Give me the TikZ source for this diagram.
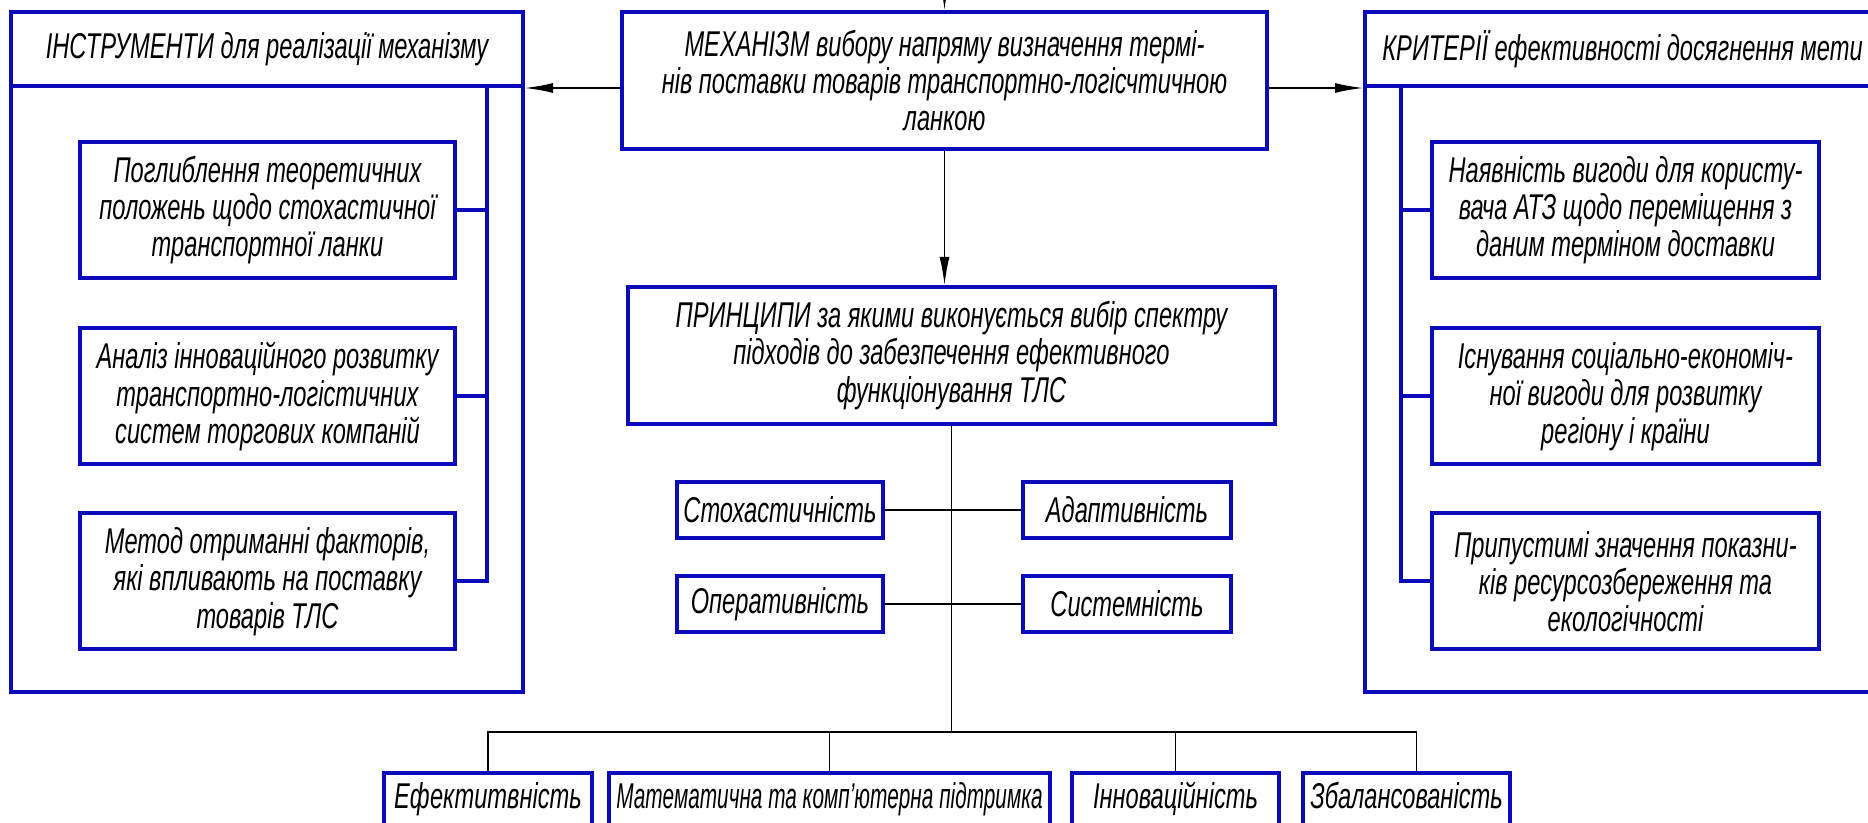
\documentclass[tikz,border=0pt]{standalone}
\usepackage{fontspec}
\setmainfont{Liberation Sans}[FakeStretch=0.66]
\newfontfamily\narrowfont{Liberation Sans}[FakeStretch=0.58]
\usetikzlibrary{positioning, arrows.meta}
\definecolor{mBlue}{HTML}{0A0AB8}

\begin{document}
\begin{tikzpicture}[
  x=0.1mm, y=-0.1mm,
  every node/.style={font=\fontsize{10.2}{10.6}\selectfont\itshape},
  box/.style={draw=mBlue, line width=0.4mm, fill=white, align=center, inner sep=0pt},
  frame/.style={draw=mBlue, line width=0.4mm, inner sep=0pt},
  lowbox/.style={box, anchor=north, inner ysep=1.2mm, text height=2.4mm, text depth=4mm},
  bus/.style={mBlue, line width=0.4mm},
  link/.style={black, line width=0.15mm},
  arr/.style={black, line width=0.15mm, -{Latex[length=2.8mm, width=1mm]}},
]
  \useasboundingbox (0,0) rectangle (1868,823);
  \fill[white] (0,0) rectangle (1868,823);
  \clip (0,0) rectangle (1868,823);

  % Mechanism and principles
  \node[box, minimum width=64.5mm, minimum height=13.7mm] (mech) at (944.5,80.5) {
    МЕХАНІЗМ вибору напряму визначення термі-\\
    нів поставки товарів транспортно-логісчтичною\\
    ланкою};
  \node[box, minimum width=64.7mm, minimum height=13.7mm] (princ) at (951.5,355.5) {
    ПРИНЦИПИ за якими виконується вибір спектру\\
    підходів до забезпечення ефективного\\
    функціонування ТЛС};
  \coordinate (mechin) at (944.5,-20);

  % Instruments frame
  \node[frame, minimum width=51.2mm, minimum height=68mm] (instr) at (267,352) {};
  \node[box, minimum width=51.2mm, minimum height=7.4mm] (instrhead) at (267,49) {
    ІНСТРУМЕНТИ для реалізації механізму};
  \node[box, minimum width=37.5mm, minimum height=13.6mm] (t1) at (267.5,210) {
    Поглиблення теоретичних\\
    положень щодо стохастичної\\
    транспортної ланки};
  \node[box, minimum width=37.5mm, minimum height=13.6mm] (t2) at (267.5,396.5) {
    Аналіз інноваційного розвитку\\
    транспортно-логістичних\\
    систем торгових компаній};
  \node[box, minimum width=37.5mm, minimum height=13.6mm] (t3) at (267.5,581.5) {
    Метод отриманні факторів,\\
    які впливають на поставку\\
    товарів ТЛС};
  \coordinate (lbus) at (487,86);

  % Criteria frame
  \node[frame, minimum width=51.5mm, minimum height=68mm] (crit) at (1622.5,352) {};
  \node[box, minimum width=51.5mm, minimum height=7.4mm] (crithead) at (1622.5,49) {
    КРИТЕРІЇ ефективності досягнення мети};
  \node[box, minimum width=38.7mm, minimum height=13.6mm] (k1) at (1625.5,210) {
    Наявність вигоди для користу-\\
    вача АТЗ щодо переміщення з\\
    даним терміном доставки};
  \node[box, minimum width=38.7mm, minimum height=13.6mm] (k2) at (1625.5,396.5) {
    Існування соціально-економіч-\\
    ної вигоди для розвитку\\
    регіону і країни};
  \node[box, minimum width=38.7mm, minimum height=13.6mm] (k3) at (1625.5,581.5) {
    Припустимі значення показни-\\
    ків ресурсозбереження та\\
    екологічності};
  \coordinate (rbus) at (1401,86);

  % Principle properties
  \node[box, minimum width=20.6mm, minimum height=5.6mm] (stoch) at (780,510) {Стохастичність};
  \node[box, minimum width=20.8mm, minimum height=5.6mm] (adapt) at (1127,510) {Адаптивність};
  \node[box, minimum width=20.6mm, minimum height=5.6mm] (oper) at (780,604) {Оперативність};
  \node[box, minimum width=20.8mm, minimum height=5.6mm] (syst) at (1127,604) {Системність};

  % Bottom row
  \node[lowbox, minimum width=20.8mm] (eff) at (488,771) {Ефектитвність};
  \node[lowbox, minimum width=44.1mm, font=\fontsize{10.2}{10.6}\narrowfont\itshape] (math) at (829.5,771) {Математична та комп’ютерна підтримка};
  \node[lowbox, minimum width=20.7mm] (innov) at (1175.5,771) {Інноваційність};
  \node[lowbox, minimum width=20.7mm] (bal) at (1406.5,771) {Збалансованість};
  \coordinate (split) at (951.5,732);

  % Arrows
  \draw[arr] (mechin) -- (mech.north);
  \draw[arr] (mech.south) -- (mech.south |- princ.north);
  \draw[arr] (mech.west |- instrhead.south east) -- (instrhead.south east);
  \draw[arr] (mech.east |- crithead.south west) -- (crithead.south west);

  % Blue buses
  \draw[bus] (lbus) |- (t3.east);
  \draw[bus] (t1.east) -- (t1.east -| lbus);
  \draw[bus] (t2.east) -- (t2.east -| lbus);
  \draw[bus] (rbus) |- (k3.west);
  \draw[bus] (k1.west) -- (k1.west -| rbus);
  \draw[bus] (k2.west) -- (k2.west -| rbus);

  % Thin links
  \draw[link] (princ.south) -- (split);
  \draw[link] (stoch.east) -- (adapt.west);
  \draw[link] (oper.east) -- (syst.west);
  \draw[link] (eff.north) |- (split) -| ([xshift=1mm]bal.north);
  \draw[link] (math.north) -- (math.north |- split);
  \draw[link] (innov.north) -- (innov.north |- split);
\end{tikzpicture}
\end{document}
